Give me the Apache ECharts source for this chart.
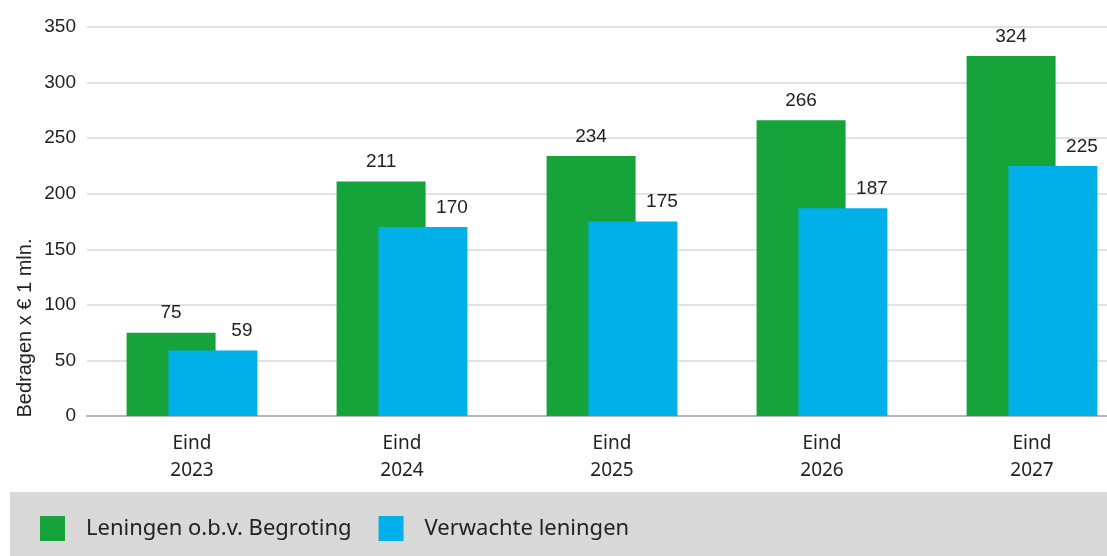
<!DOCTYPE html>
<html>
<head>
<meta charset="utf-8">
<script src="https://cdn.jsdelivr.net/npm/echarts@6/dist/echarts.min.js"></script>
<style>
  html, body { margin: 0; padding: 0; background: #fff; }
  #chart { width: 1107px; height: 556px; }
</style>
</head>
<body>
<div id="chart"></div>
<script>
// data
var categories = ['Eind\n2023', 'Eind\n2024', 'Eind\n2025', 'Eind\n2026', 'Eind\n2027'];
var begroting = [75, 211, 234, 266, 324];
var verwacht = [59, 170, 175, 187, 225];
var yTicks = [0, 50, 100, 150, 200, 250, 300, 350];

var chartDom = document.getElementById('chart');
var myChart = echarts.init(chartDom);
var option;

option = {
    animation: false,
    grid: { left: 87, width: 1050, top: 27, height: 389, outerBoundsMode: 'none', containLabel: false },
    graphic: [
        {
            type: 'rect',
            z: -10,
            shape: { x: 10, y: 492, width: 1097, height: 64 },
            style: { fill: '#d9d9d9' }
        },
        {
            type: 'text',
            x: 25, y: 328,
            rotation: Math.PI / 2,
            style: {
                text: 'Bedragen x € 1 mln.',
                fontFamily: 'Liberation Sans',
                fontSize: 20,
                fill: '#222',
                align: 'center',
                verticalAlign: 'middle'
            }
        }
    ],
    legend: {
        left: 35,
        top: 511,
        itemWidth: 25,
        itemHeight: 25,
        itemGap: 27,
        icon: 'rect',
        textStyle: {
            fontFamily: 'Noto Sans',
            fontSize: 22,
            color: '#222',
            padding: [0, 0, 0, 16]
        },
        data: ['Leningen o.b.v. Begroting', 'Verwachte leningen']
    },
    xAxis: {
        type: 'category',
        data: categories,
        axisTick: { show: false },
        axisLine: { lineStyle: { color: '#b3b3b3', width: 2 } },
        axisLabel: {
            fontFamily: 'Noto Sans',
            fontSize: 19,
            lineHeight: 27,
            color: '#222',
            margin: 14
        }
    },
    yAxis: {
        type: 'value',
        min: 0,
        max: yTicks[yTicks.length - 1],
        interval: 50,
        axisLabel: {
            fontFamily: 'Liberation Sans',
            fontSize: 19,
            color: '#222',
            margin: 11
        },
        splitLine: { lineStyle: { color: '#d9d9d9', width: 1.5 } }
    },
    series: [
        {
            name: 'Leningen o.b.v. Begroting',
            type: 'bar',
            data: begroting,
            barWidth: 89,
            barGap: '-53%',
            itemStyle: { color: '#16a33a' },
            label: {
                show: true,
                position: 'top',
                distance: 10,
                fontFamily: 'Liberation Sans',
                fontSize: 19,
                color: '#222'
            }
        },
        {
            name: 'Verwachte leningen',
            type: 'bar',
            data: verwacht,
            barWidth: 89,
            itemStyle: { color: '#00b0e8' },
            label: {
                show: true,
                position: 'top',
                distance: 10,
                offset: [29, 0],
                fontFamily: 'Liberation Sans',
                fontSize: 19,
                color: '#222'
            }
        }
    ]
};

option && myChart.setOption(option);
</script>
</body>
</html>
